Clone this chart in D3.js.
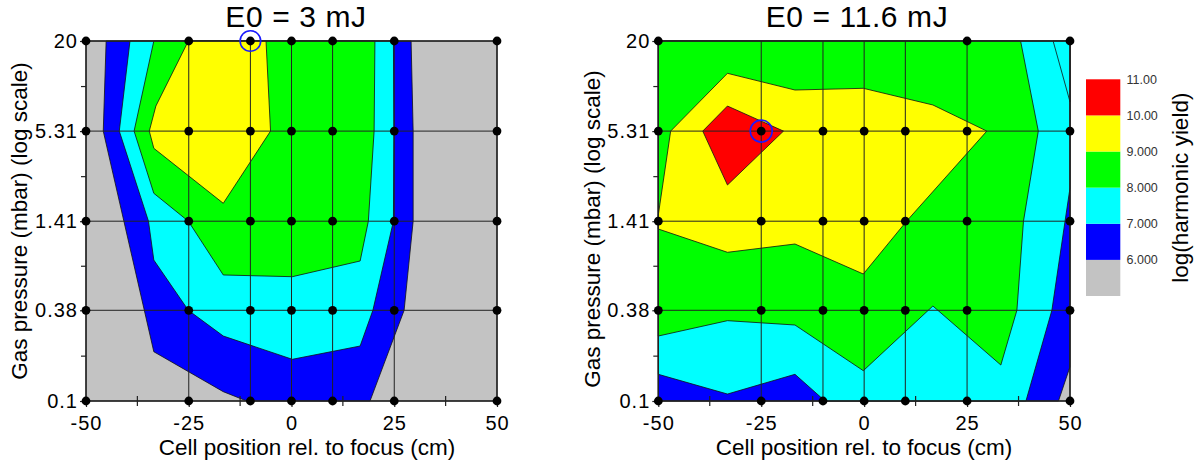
<!DOCTYPE html>
<html><head><meta charset="utf-8">
<script src="https://cdn.jsdelivr.net/npm/d3@7"></script>
<style>
html,body{margin:0;padding:0;background:#fff;}
svg{display:block;font-family:"Liberation Sans",Arial,sans-serif;}
</style></head><body>
<svg id="chart" width="1201" height="468"></svg>
<script>
// ---------------- data ----------------
const titles = ["E0 = 3 mJ", "E0 = 11.6 mJ"];
const xTitle = "Cell position rel. to focus (cm)";
const yTitle = "Gas pressure (mbar) (log scale)";
const cbTitle = "log(harmonic yield)";

const xPositions = [-50, -25, -10, 0, 10, 25, 50];          // measured cell positions (grid lines)
const pressureTicks = [0.1, 0.38, 1.41, 5.31, 20];          // measured pressures (log axis)
const pressureLabels = ["0.1", "0.38", "1.41", "5.31", "20"];
const xTicks = [-50, -25, 0, 25, 50];
const xTickLabels = ["-50", "-25", "0", "25", "50"];
const xMinorTicks = [-37.5, -12.5, 12.5, 37.5];

const levels = [5, 6, 7, 8, 9, 10, 11];
const bandColors = ["#c3c3c3", "#0000ff", "#00ffff", "#00ff00", "#ffff00", "#ff0000"];
const colorbarLabels = ["6.000", "7.000", "8.000", "9.000", "10.00", "11.00"];

// measured points per pressure row (top row = 20 mbar)
const rowPressures = [20, 5.31, 1.41, 0.38, 0.1];
const dots3mJ = [
  [-50, -25, -10, 0, 10, 25, 50],
  [-50, -25, -10, 0, 10, 25, 50],
  [-50, -25, -10, 0, 10, 25, 50],
  [-50, -25, -10, 0, 10, 25, 50],
  [-50, -25, -10, 0, 10, 25, 50]
];
const dots11mJ = [
  [-50, 25, 50],
  [-50, -25, -10, 0, 10, 25, 50],
  [-50, -25, -10, 0, 10, 25, 50],
  [-50, -25, -10, 0, 10, 25, 50],
  [-50, -25, -10, 0, 10, 25, 50]
];
const best3mJ = [-10, 20];
const best11mJ = [-25, 5.31];

// contour regions (log yield >= level), vertices as [cm, mbar]
const contours3mJ = [
  {level: 6, pts: [[-45.1,20],[29.1,20],[29.6,5.31],[29.6,1.41],[27.4,0.38],[19.1,0.1],[-10.9,0.1],[-16.6,0.1147],[-33.5,0.2065],[-45.8,5.31]]},
  {level: 7, pts: [[-39.3,20],[24.8,20],[24.9,5.31],[24.8,1.41],[19.8,0.38],[16.7,0.2246],[0.2,0.1847],[-16.6,0.2602],[-25.1,0.38],[-33.5,0.796],[-34.8,1.41],[-41.9,5.31]]},
  {level: 8, pts: [[-33.5,20],[20.3,20],[20.1,5.31],[18.7,1.41],[16.7,0.785],[0.2,0.623],[-16.6,0.639],[-25.1,1.41],[-33.5,2.126],[-38.3,5.31]]},
  {level: 9, pts: [[-25.1,20],[-6.2,20],[-5.1,5.31],[-16.6,1.835],[-33.5,4.123],[-34.6,5.31],[-33.0,7.68]]}
];
const contours11mJ = [
  {level: 6, pts: [[-50,20],[50,20],[50,0.1656],[47.2,0.1],[-50,0.1]]},
  {level: 7, pts: [[-50,20],[50,20],[50,2.298],[48.8,1.41],[45.6,0.38],[39.3,0.1],[-9.5,0.1],[-16.8,0.1481],[-33.2,0.1108],[-50,0.1481]]},
  {level: 7, pts: [[45.9,20],[50,20],[50,8.18]]},
  {level: 8, pts: [[-50,20],[38.0,20],[42.3,5.31],[38.7,1.41],[37.1,0.38],[33.2,0.1698],[16.7,0.4047],[-0.2,0.1562],[-16.8,0.306],[-33.2,0.3262],[-50,0.2602]]},
  {level: 9, pts: [[-50,1.545],[-47.0,5.31],[-33.2,12.43],[-16.8,9.72],[-0.2,9.97],[16.7,7.8],[29.8,5.31],[10.3,1.41],[-0.2,0.648],[-16.8,1.008],[-33.2,0.892],[-50,1.257]]},
  {level: 10, pts: [[-33.2,7.68],[-19.6,5.31],[-33.2,2.403],[-39.2,5.31]]}
];

// ---------------- drawing ----------------
const svg = d3.select("#chart");
const TICKFONT = 20;
const y = d3.scaleLog().domain([0.1, 20]).range([401, 41]);
const colorOf = lv => bandColors[levels.indexOf(lv)];

const panels = [
  {title: titles[0], x: d3.scaleLinear().domain([-50, 50]).range([86, 497]),
   contours: contours3mJ, dots: dots3mJ, best: best3mJ,
   titleX: 296, xTitleX: 307, yTitleX: 27, yTitleY: 221, bestR: 10.3},
  {title: titles[1], x: d3.scaleLinear().domain([-50, 50]).range([658.3, 1070]),
   contours: contours11mJ, dots: dots11mJ, best: best11mJ,
   titleX: 857, xTitleX: 864, yTitleX: 600, yTitleY: 229, bestR: 11}
];

panels.forEach(p => {
  const x = p.x;
  const g = svg.append("g");
  const [x0, x1] = x.range();
  const [yb, yt] = y.range();

  g.append("rect").attr("x", x0).attr("y", yt).attr("width", x1 - x0).attr("height", yb - yt)
    .attr("fill", bandColors[0]);

  const line = d3.line().x(d => x(d[0])).y(d => y(d[1]));
  g.selectAll("path.contour").data(p.contours).join("path")
    .attr("class", "contour")
    .attr("d", d => line(d.pts) + "Z")
    .attr("fill", d => colorOf(d.level))
    .attr("stroke", "#111").attr("stroke-width", 0.8).attr("stroke-linejoin", "round");

  // grid
  g.selectAll("line.vg").data(xPositions).join("line").attr("class", "vg")
    .attr("x1", d => x(d)).attr("x2", d => x(d)).attr("y1", yt).attr("y2", yb)
    .attr("stroke", "#222").attr("stroke-width", 1);
  g.selectAll("line.hg").data(pressureTicks).join("line").attr("class", "hg")
    .attr("y1", d => y(d)).attr("y2", d => y(d)).attr("x1", x0).attr("x2", x1)
    .attr("stroke", "#222").attr("stroke-width", 1);

  g.append("rect").attr("x", x0).attr("y", yt).attr("width", x1 - x0).attr("height", yb - yt)
    .attr("fill", "none").attr("stroke", "#222").attr("stroke-width", 1.4);

  // x axis (major ticks outward, minor ticks crossing the axis)
  const xa = g.append("g").attr("transform", `translate(0,${yb})`)
    .call(d3.axisBottom(x).tickValues(xTicks).tickSize(6).tickPadding(9)
      .tickFormat((d, i) => xTickLabels[i]));
  xa.select(".domain").remove();
  xa.selectAll("line").attr("stroke", "#222").attr("stroke-width", 1.2);
  xa.selectAll("text").attr("font-size", TICKFONT).attr("letter-spacing", 1)
    .attr("fill", "#000").attr("font-family", null);
  g.selectAll("line.xminor").data(xMinorTicks).join("line").attr("class", "xminor")
    .attr("x1", d => x(d)).attr("x2", d => x(d)).attr("y1", yb - 5).attr("y2", yb + 5)
    .attr("stroke", "#222").attr("stroke-width", 1.2);

  // y axis
  const ya = g.append("g").attr("transform", `translate(${x0},0)`)
    .call(d3.axisLeft(y).tickValues(pressureTicks).tickSize(6).tickPadding(2)
      .tickFormat((d, i) => pressureLabels[i]));
  ya.select(".domain").remove();
  ya.selectAll("line").attr("stroke", "#222").attr("stroke-width", 1.2);
  ya.selectAll("text").attr("font-size", TICKFONT).attr("letter-spacing", 1)
    .attr("fill", "#000").attr("font-family", null);

  const minor = d3.pairs(pressureTicks).map(([a, b]) => Math.sqrt(a * b));
  const ym = g.append("g").attr("transform", `translate(${x0},0)`)
    .call(d3.axisLeft(y).tickValues(minor).tickSize(5).tickFormat(() => ""));
  ym.select(".domain").remove();
  ym.selectAll("line").attr("stroke", "#222").attr("stroke-width", 1.2);

  // measured points
  const pts = [];
  p.dots.forEach((row, i) => row.forEach(v => pts.push([v, rowPressures[i]])));
  g.selectAll("circle.dot").data(pts).join("circle").attr("class", "dot")
    .attr("cx", d => x(d[0])).attr("cy", d => y(d[1])).attr("r", 4.4).attr("fill", "#000");

  g.append("circle").attr("cx", x(p.best[0])).attr("cy", y(p.best[1])).attr("r", p.bestR)
    .attr("fill", "none").attr("stroke", "#1a1aff").attr("stroke-width", 1.6);

  // titles
  g.append("text").attr("x", p.titleX).attr("y", 27).attr("text-anchor", "middle")
    .attr("font-size", 30).attr("letter-spacing", 0.6).text(p.title);
  g.append("text").attr("x", p.xTitleX).attr("y", 455).attr("text-anchor", "middle")
    .attr("font-size", 22.5).text(xTitle);
  g.append("text").attr("transform", `translate(${p.yTitleX},${p.yTitleY}) rotate(-90)`)
    .attr("text-anchor", "middle").attr("font-size", 22.5).text(yTitle);
});

// colour bar
const cb = d3.scaleLinear().domain([5, 11]).range([296, 79.3]);
const cbg = svg.append("g");
cbg.selectAll("rect").data(d3.pairs(levels)).join("rect")
  .attr("x", 1086).attr("width", 34.3)
  .attr("y", d => cb(d[1])).attr("height", d => cb(d[0]) - cb(d[1]))
  .attr("fill", (d, i) => bandColors[i]);
cbg.selectAll("text.cbl").data(levels.slice(1)).join("text").attr("class", "cbl")
  .attr("x", 1126.5).attr("y", d => cb(d)).attr("dy", "0.35em")
  .attr("font-size", 12.5).attr("fill", "#333").text((d, i) => colorbarLabels[i]);
cbg.append("text").attr("transform", `translate(1188,${(cb(5) + cb(11)) / 2}) rotate(-90)`)
  .attr("text-anchor", "middle").attr("font-size", 22.5).text(cbTitle);
</script>
</body></html>
